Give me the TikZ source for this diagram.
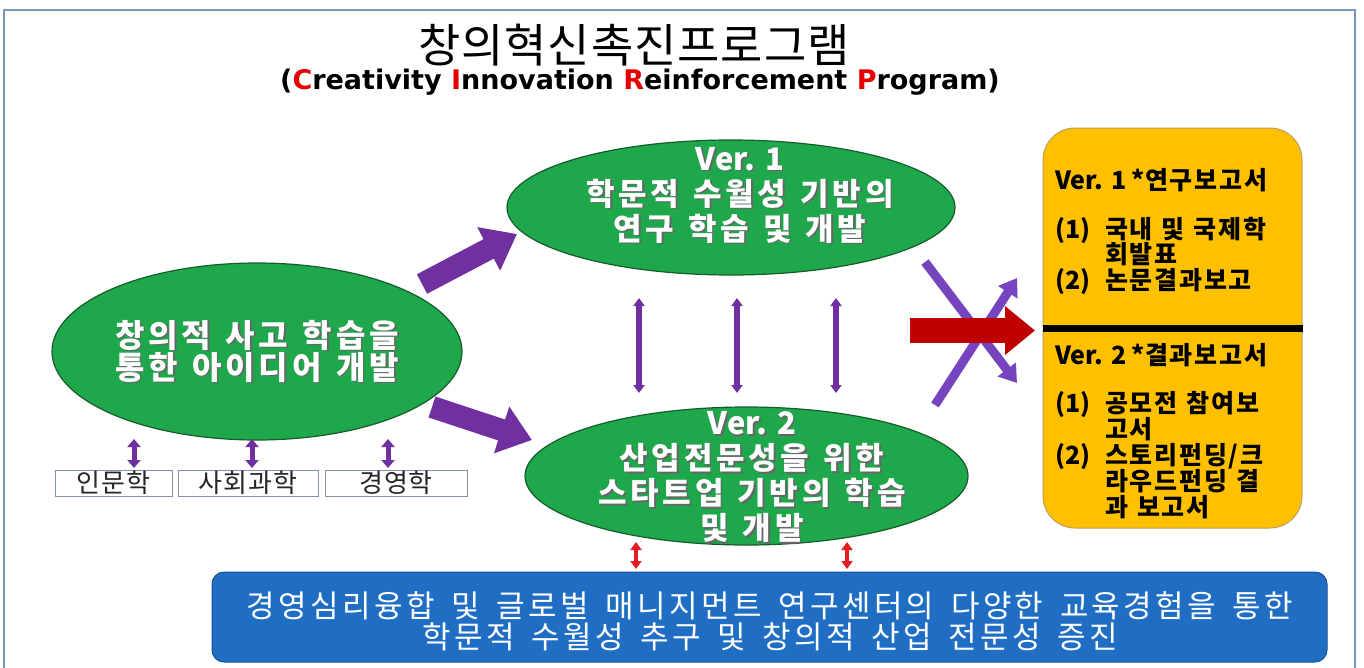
\documentclass[tikz,border=0pt]{standalone}
\usepackage{fontspec}
\setmainfont{Noto Sans CJK KR}
\newfontfamily\klat{Noto Sans CJK KR}
\newfontfamily\kttl[LetterSpace=2]{Noto Sans CJK KR}
\newfontfamily\kel[LetterSpace=12,WordSpace=1.3]{Noto Sans CJK KR}
\newfontfamily\kyel[LetterSpace=7,WordSpace=1.2]{Noto Sans CJK KR}
\newfontfamily\kblu[LetterSpace=11,WordSpace=1.6]{Noto Sans CJK KR}
\newfontfamily\kbx[LetterSpace=3]{Noto Sans CJK KR}
\newfontfamily\dsans{DejaVu Sans}
\usetikzlibrary{arrows.meta,shapes.geometric}
\definecolor{framec}{RGB}{120,150,185}
\definecolor{egreen}{RGB}{31,168,75}
\definecolor{edge}{RGB}{22,92,42}
\definecolor{purp}{RGB}{112,48,160}
\definecolor{purpl}{RGB}{118,68,190}
\definecolor{darkred}{RGB}{192,0,0}
\definecolor{brightred}{RGB}{226,30,36}
\definecolor{yel}{RGB}{255,192,0}
\definecolor{yedge}{RGB}{190,160,90}
\definecolor{bblue}{RGB}{31,110,196}
\definecolor{bedge}{RGB}{25,80,150}
\definecolor{cred}{RGB}{230,0,0}
\definecolor{hbox}{RGB}{130,145,165}
\newcommand\shd[1]{\leavevmode\rlap{\kern1.6pt\raisebox{-1.6pt}{\textcolor{black!60}{#1}}}#1}
\tikzset{
  x=1pt, y=-1pt,
  ellip/.style={ellipse, draw=edge, line width=1.2pt, fill=egreen, inner sep=0pt},
  etext/.style={text=white, font=\kel\bfseries\fontsize{31}{35}\selectfont, align=center, inner sep=0pt},
  bigarrow/.style={purp, line width=22pt, -{Triangle[length=32pt,width=47pt]}},
  crossarrow/.style={purpl, line width=9pt, -{Triangle[length=17pt,width=22pt]}},
  vdbl/.style={purp, line width=5.5pt, {Triangle[length=8pt,width=11pt]}-{Triangle[length=8pt,width=11pt]}},
  sdbl/.style={purp, line width=5pt, {Triangle[length=8pt,width=13pt]}-{Triangle[length=8pt,width=13pt]}},
  rdbl/.style={brightred, line width=4pt, {Triangle[length=8pt,width=11pt]}-{Triangle[length=8pt,width=11pt]}},
  hboxs/.style={draw=hbox, line width=1pt, fill=white, inner sep=0pt, font=\kbx\fontsize{26}{28}\selectfont, text=black!85},
  ytext/.style={font=\kyel\bfseries\fontsize{25}{26}\selectfont, inner sep=0pt, anchor=base west}
}
\begin{document}
\begin{tikzpicture}
\useasboundingbox (0,0) rectangle (1364,667);
\fill[white] (0,0) rectangle (1364,667);
\draw[framec, line width=1.3pt] (4,10) rectangle (1355,690);

% titles
\node[font=\kttl\fontsize{46}{50}\selectfont, inner sep=0pt] (title) at (634,45) {창의혁신촉진프로그램};
\node[font=\dsans\bfseries\fontsize{27}{30}\selectfont, inner sep=0pt] (sub) at (640,82)
  {(\textcolor{cred}{C}reativity \textcolor{cred}{I}nnovation \textcolor{cred}{R}einforcement \textcolor{cred}{P}rogram)};

% ellipses
\node[ellip, minimum width=410, minimum height=177] (L) at (257,351.5) {};
\node[ellip, minimum width=448, minimum height=135] (T) at (731,207.5) {};
\node[ellip, minimum width=443, minimum height=138] (B) at (746.5,476) {};

\node[etext, font=\kel\bfseries\fontsize{32}{32}\selectfont] (Ltext) at (257,352) {\shd{창의적 사고 학습을}\\\shd{통한 아이디어 개발}};
\node[etext] (Ttext) at (740,196) {\shd{\klat Ver. 1}\\\shd{학문적 수월성 기반의}\\\shd{연구 학습 및 개발}};
\node[etext] (Btext) at (752,478) {\shd{\klat Ver. 2}\\\shd{산업전문성을 위한}\\\shd{스타트업 기반의 학습}\\\shd{및 개발}};

% discipline boxes
\node[hboxs, minimum width=117, minimum height=26] (h1) at (113.5,483) {인문학};
\node[hboxs, minimum width=140, minimum height=26] (h2) at (248,483) {사회과학};
\node[hboxs, minimum width=142, minimum height=26] (h3) at (396,483) {경영학};

% yellow result box
\node[fill=yel, draw=yedge, line width=1pt, rounded corners=32pt, minimum width=259, minimum height=400, inner sep=0pt] (Y) at (1172.5,328) {};
\draw[line width=7pt, black] (Y.west) -- (Y.east);
\node[ytext] (y1) at (1055,189) {\vtop{\baselineskip=25.5pt\lineskiplimit=-100pt\lineskip=0pt
  \hbox{{\klat Ver. 1 *}연구보고서}\vskip23.5pt
  \hbox{\makebox[50pt][l]{\klat (1)}국내 및 국제학}
  \hbox{\hspace*{50pt}회발표}
  \hbox{\makebox[50pt][l]{\klat (2)}논문결과보고}}};
\node[ytext] (y2) at (1055,364) {\vtop{\baselineskip=26pt\lineskiplimit=-100pt\lineskip=0pt
  \hbox{{\klat Ver. 2 *}결과보고서}\vskip22pt
  \hbox{\makebox[50pt][l]{\klat (1)}공모전 참여보}
  \hbox{\hspace*{50pt}고서}
  \hbox{\makebox[50pt][l]{\klat (2)}스토리펀딩/크}
  \hbox{\hspace*{50pt}라우드펀딩 결}
  \hbox{\hspace*{50pt}과 보고서}}};

% blue box
\node[fill=bblue, draw=bedge, line width=1pt, rounded corners=12pt, minimum width=1115, minimum height=90, inner sep=0pt] (BL) at (769.5,617) {};
\node[font=\kblu\fontsize{31}{31}\selectfont, text=white, align=center, inner sep=0pt] (BLtext) at (770,621.5)
  {경영심리융합 및 글로벌 매니지먼트 연구센터의 다양한 교육경험을 통한\\학문적 수월성 추구 및 창의적 산업 전문성 증진};

% big purple arrows
\coordinate (a1s) at (422,284); \coordinate (a1e) at (517,234);
\coordinate (a2s) at (432,407); \coordinate (a2e) at (532,440);
\draw[bigarrow] (a1s) -- (a1e);
\draw[bigarrow] (a2s) -- (a2e);

% vertical double arrows between ellipses
\foreach \x/\n in {639/1,737/2,836/3}{
  \coordinate (v\n a) at (\x,298); \coordinate (v\n b) at (\x,393);
  \draw[vdbl] (v\n a) -- (v\n b);
}
% small double arrows to discipline boxes
\coordinate (s1a) at (134,439); \coordinate (s1b) at (134,468);
\coordinate (s2a) at (252,439); \coordinate (s2b) at (252,468);
\coordinate (s3a) at (388,439); \coordinate (s3b) at (388,468);
\draw[sdbl] (s1a) -- (s1b);
\draw[sdbl] (s2a) -- (s2b);
\draw[sdbl] (s3a) -- (s3b);
% red double arrows to blue box
\coordinate (r1a) at (636,542); \coordinate (r1b) at (636,569);
\coordinate (r2a) at (847,542); \coordinate (r2b) at (847,569);
\draw[rdbl] (r1a) -- (r1b);
\draw[rdbl] (r2a) -- (r2b);

% crossing arrows and red arrow
\coordinate (c1s) at (935,405); \coordinate (c1e) at (1017,278);
\coordinate (c2s) at (925,262); \coordinate (c2e) at (1017,383);
\draw[crossarrow] (c1s) -- (c1e);
\draw[crossarrow] (c2s) -- (c2e);
\coordinate (ra) at (910,330.5); \coordinate (rb) at (1035,330.5);
\draw[darkred, line width=25pt, -{Triangle[length=30pt,width=47pt]}] (ra) -- (rb);
\end{tikzpicture}
\end{document}
